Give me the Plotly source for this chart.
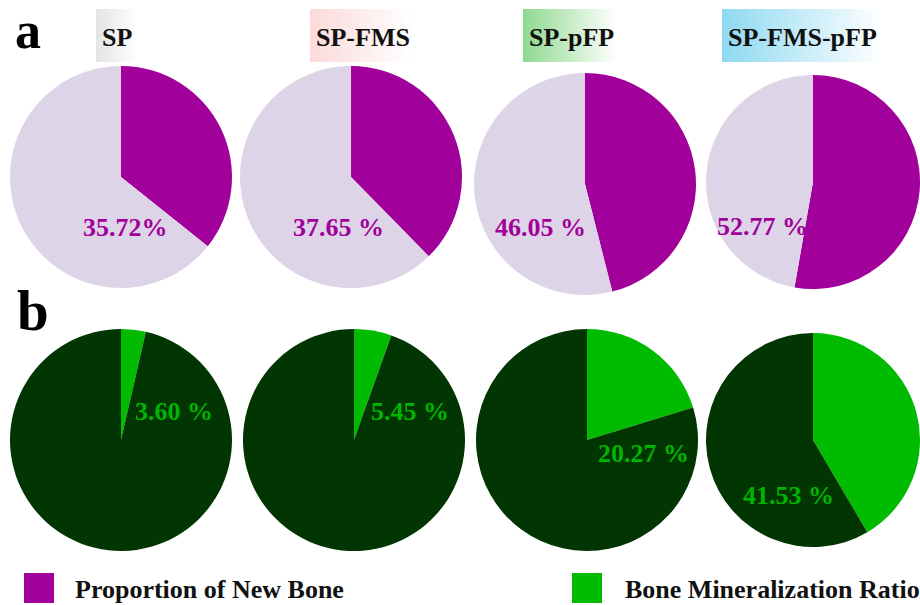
import plotly.graph_objects as go

# ---- data -------------------------------------------------------------
groups = ["SP", "SP-FMS", "SP-pFP", "SP-FMS-pFP"]
new_bone_pct = [35.72, 37.65, 46.05, 52.77]          # proportion of new bone (%)
mineral_pct = [3.60, 5.45, 20.27, 41.53]             # bone mineralization ratio (%)
new_bone_labels = ["35.72%", "37.65 %", "46.05 %", "52.77 %"]
mineral_labels = ["3.60 %", "5.45 %", "20.27 %", "41.53 %"]
legend_names = ["Proportion of New Bone", "Bone Mineralization Ratio"]

# ---- layout helpers (pixel -> paper) ----------------------------------
W, H = 920, 605
FONT = "Liberation Serif, Times New Roman, serif"

def fx(px):
    return px / W

def fy(py):
    return 1 - py / H

def domain(cx, cy, r):
    x0, x1 = max(0.0, fx(cx - r)), min(1.0, fx(cx + r))
    y0, y1 = max(0.0, fy(cy + r)), min(1.0, fy(cy - r))
    return dict(x=[x0, x1], y=[y0, y1])

PURPLE = "#A1009A"
LAVENDER = "#DDD5E7"
DARK_GREEN = "#013501"
BRIGHT_GREEN = "#00BB00"

top_centers = [(121, 177, 111), (351, 177, 111), (585, 184, 111), (813, 182, 107)]
bot_centers = [(121, 440, 111), (354, 440, 111), (587, 440, 111), (813, 440, 107)]

top_label_pos = [(125, 227), (338, 227), (540, 227), (762, 226)]
bot_label_pos = [(174, 411), (410, 411), (643, 453), (788, 495)]

title_boxes = [  # (left, right, gradient start colour)
    (96, 138, "#E4E4E4"),
    (310, 413, "#FCDADA"),
    (523, 617, "#8FD98F"),
    (722, 883, "#8ED9F2"),
]

fig = go.Figure()

# ---- pies ---------------------------------------------------------------
for i, g in enumerate(groups):
    cx, cy, r = top_centers[i]
    fig.add_trace(go.Pie(
        values=[new_bone_pct[i], 100 - new_bone_pct[i]],
        labels=[legend_names[0], "Other"],
        marker=dict(colors=[PURPLE, LAVENDER], line=dict(width=0)),
        sort=False, direction="clockwise", rotation=0,
        textinfo="none", hoverinfo="label+percent", name=g,
        domain=domain(cx, cy, r), showlegend=False,
    ))
    cx, cy, r = bot_centers[i]
    fig.add_trace(go.Pie(
        values=[mineral_pct[i], 100 - mineral_pct[i]],
        labels=[legend_names[1], "Non-mineralized"],
        marker=dict(colors=[BRIGHT_GREEN, DARK_GREEN], line=dict(width=0)),
        sort=False, direction="clockwise", rotation=0,
        textinfo="none", hoverinfo="label+percent", name=g,
        domain=domain(cx, cy, r), showlegend=False,
    ))

# ---- gradient title boxes (pixel-space overlay axis) --------------------
for (x0, x1, c) in title_boxes:
    fig.add_trace(go.Scatter(
        x=[x0, x1, x1, x0, x0], y=[9, 9, 62, 62, 9],
        mode="lines", line=dict(width=0), fill="toself",
        fillgradient=dict(type="horizontal",
                          colorscale=[[0, c], [1, "rgba(255,255,255,1)"]]),
        hoverinfo="skip", showlegend=False,
    ))

annotations = []
for i, g in enumerate(groups):
    x0 = title_boxes[i][0]
    annotations.append(dict(
        x=fx(x0 + 4), y=fy(37), xref="paper", yref="paper",
        text=f"<b>{g}</b>", showarrow=False, xanchor="left", yanchor="middle",
        font=dict(family=FONT, size=26, color="#111111"),
    ))
    lx, ly = top_label_pos[i]
    annotations.append(dict(
        x=fx(lx), y=fy(ly), xref="paper", yref="paper",
        text=f"<b>{new_bone_labels[i]}</b>", showarrow=False,
        xanchor="center", yanchor="middle",
        font=dict(family=FONT, size=26, color=PURPLE),
    ))
    lx, ly = bot_label_pos[i]
    annotations.append(dict(
        x=fx(lx), y=fy(ly), xref="paper", yref="paper",
        text=f"<b>{mineral_labels[i]}</b>", showarrow=False,
        xanchor="center", yanchor="middle",
        font=dict(family=FONT, size=26, color="#00B400"),
    ))

# panel letters
annotations.append(dict(
    x=fx(13), y=1.0, xref="paper", yref="paper",
    text="<b>a</b>", showarrow=False, xanchor="left", yanchor="top",
    font=dict(family=FONT, size=52, color="#000000"),
))
annotations.append(dict(
    x=fx(15), y=fy(310), xref="paper", yref="paper",
    text="<b>b</b>", showarrow=False, xanchor="left", yanchor="middle",
    font=dict(family=FONT, size=57, color="#000000"),
))

# legend rows: colour swatch + label
shapes = []
for (sx, tx, col, name) in ((24, 73, PURPLE, legend_names[0]),
                            (572, 623, BRIGHT_GREEN, legend_names[1])):
    shapes.append(dict(type="rect", xref="x", yref="y",
                       x0=sx, x1=sx + 30, y0=573, y1=603,
                       fillcolor=col, line=dict(width=0)))
    annotations.append(dict(
        x=fx(tx), y=fy(589), xref="paper", yref="paper",
        text=f"<b>{name}</b>", showarrow=False, xanchor="left", yanchor="middle",
        font=dict(family=FONT, size=26, color="#111111"),
    ))

fig.update_layout(
    width=W, height=H,
    margin=dict(l=0, r=0, t=0, b=0),
    paper_bgcolor="white", plot_bgcolor="rgba(0,0,0,0)",
    xaxis=dict(range=[0, W], visible=False, fixedrange=True, domain=[0, 1]),
    yaxis=dict(range=[H, 0], visible=False, fixedrange=True, domain=[0, 1]),
    annotations=annotations, shapes=shapes,
    showlegend=False,
)

fig.write_html("out.html")
